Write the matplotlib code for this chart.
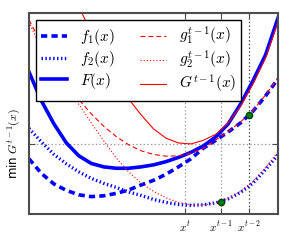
import matplotlib
matplotlib.use('Agg')
import matplotlib.pyplot as plt

plt.rcParams['mathtext.fontset'] = 'cm'
plt.rcParams['font.family'] = 'DejaVu Sans'
plt.rcParams['lines.scale_dashes'] = False

# ---- data ----
xs = [0.00, 0.05, 0.10, 0.15, 0.20, 0.25, 0.30, 0.35, 0.40, 0.45, 0.50,
      0.55, 0.60, 0.65, 0.70, 0.75, 0.80, 0.85, 0.90, 0.95, 1.00]
f1 = [0.274, 0.201, 0.149, 0.117, 0.095, 0.086, 0.090, 0.102, 0.119, 0.144, 0.167,
      0.197, 0.234, 0.274, 0.327, 0.366, 0.408, 0.453, 0.512, 0.587, 0.672]
f2 = [0.425, 0.358, 0.296, 0.249, 0.209, 0.177, 0.152, 0.132, 0.109, 0.092, 0.072,
      0.057, 0.047, 0.043, 0.045, 0.055, 0.075, 0.107, 0.154, 0.221, 0.294]
F = [0.706, 0.562, 0.448, 0.353, 0.289, 0.251, 0.234, 0.227, 0.227, 0.234, 0.244,
     0.260, 0.281, 0.306, 0.338, 0.383, 0.448, 0.547, 0.664, 0.791, 0.975]
g1 = [0.965, 0.848, 0.745, 0.652, 0.569, 0.498, 0.436, 0.385, 0.344, 0.314, 0.296,
      0.287, 0.289, 0.301, 0.326, 0.368, 0.410, 0.458, 0.515, 0.592, 0.677]
g2 = [0.955, 0.816, 0.716, 0.627, 0.545, 0.453, 0.363, 0.279, 0.209, 0.154, 0.112,
      0.080, 0.057, 0.045, 0.045, 0.055, 0.077, 0.112, 0.162, 0.231, 0.308]
xs_G = [0.20, 0.25, 0.30, 0.35, 0.40, 0.45, 0.50, 0.55, 0.60, 0.65, 0.70,
        0.75, 0.80, 0.85, 0.90, 0.95, 1.00]
G = [1.030, 0.905, 0.785, 0.667, 0.572, 0.493, 0.423, 0.377, 0.353, 0.348, 0.366,
     0.396, 0.453, 0.537, 0.647, 0.776, 0.955]

x_ticks = [0.627, 0.771, 0.884]
x_tick_labels = ['$x^t$', '$x^{t-1}$', '$x^{t-2}$']
y_ticks = [0.348]
y_tick_labels = ['min $G^{t-1}(x)$']
touch_x = [0.771, 0.884]
touch_y = [0.060, 0.490]

fig = plt.figure(figsize=(2.91, 2.47), dpi=100)
ax = fig.add_axes([0.0997, 0.134, 0.8557, 0.8138])

ax.plot(xs, f1, color='#0000ff', lw=2.6, dashes=(4.5, 3.0), label='$f_1(x)$')
ax.plot(xs, f2, color='#0000ff', lw=2.4, dashes=(1.0, 1.8), label='$f_2(x)$')
ax.plot(xs, F, color='#0000ff', lw=2.6, label='$F(x)$')
ax.plot(xs, g1, color='#ff0000', lw=0.8, dashes=(3.5, 2.2), label='$g_1^{t-1}(x)$')
ax.plot(xs, g2, color='#ff0000', lw=0.8, dashes=(0.8, 1.5), label='$g_2^{t-1}(x)$')
ax.plot(xs_G, G, color='#ff0000', lw=0.8, label='$G^{t-1}(x)$')
ax.plot(touch_x, touch_y, 'o', color='#008000', mec='#004000', ms=4.5, zorder=5)

ax.set_xlim(0, 1)
ax.set_ylim(0, 1)
ax.set_xticks(x_ticks)
ax.set_xticklabels(x_tick_labels, fontsize=8)
ax.set_yticks(y_ticks)
ax.set_yticklabels(y_tick_labels, rotation=90, va='center', fontsize=8.5)
ax.tick_params(direction='in', top=True, right=True, length=4, width=0.8,
               color='0.3', pad=4)

ax.grid(True, ls=':', color='0.6', lw=0.9)
ax.xaxis.get_gridlines()[2].set_color('0.25')

for s in ax.spines.values():
    s.set_color('0.3')
    s.set_linewidth(1.5)

leg = ax.legend(ncol=2, loc='upper left', bbox_to_anchor=(0.028, 0.965),
                fontsize=11, frameon=True, fancybox=False, framealpha=1,
                edgecolor='black', handlelength=1.65, handletextpad=0.85,
                columnspacing=1.7, labelspacing=0.12, borderpad=0.35,
                borderaxespad=0)
leg.get_frame().set_linewidth(1.0)

fig.savefig('out.png', dpi=100)
